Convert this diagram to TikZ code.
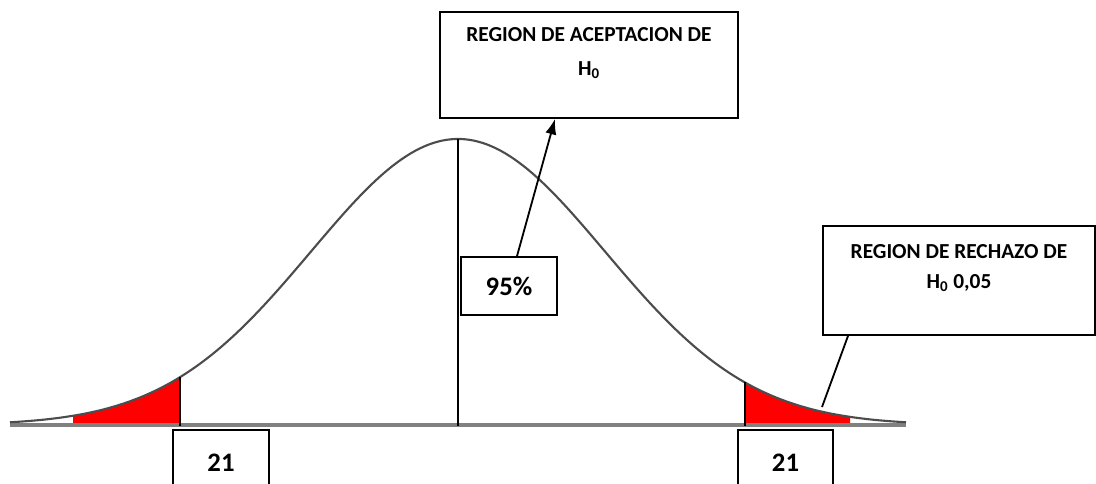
\documentclass[tikz,border=0pt]{standalone}
\usepackage{fontspec}
\setmainfont{Carlito}
\usetikzlibrary{arrows.meta}

\begin{document}
\begin{tikzpicture}[x=0.025cm, y=-0.025cm,
  box/.style={draw, line width=1.3pt, fill=white, inner sep=0pt},
  lbl/.style={font=\bfseries\fontsize{15.2}{24}\selectfont, align=center, inner sep=0pt},
  num/.style={font=\bfseries\fontsize{19}{22}\selectfont}]
% one unit = one pixel of the picture
\def\pxsize{0.025cm}

\useasboundingbox (0,0) rectangle (1096,483);
\clip (0,0) rectangle (1096,483);

% red tails under the curve
\fill[red] (73,425) -- plot[domain=73:180, samples=60] (\x, {425-286*exp(-((\x-458)/147)^2/2)}) -- (180,425) -- cycle;
\fill[red] (745,425) -- plot[domain=745:850, samples=60] (\x, {425-286*exp(-((\x-458)/147)^2/2)}) -- (850,425) -- cycle;

% axis and curve
\draw[gray, line width=3.5pt] (10,425) -- (906,425);
\draw[black!70, line width=1.5pt] plot[domain=10:906, samples=200] (\x, {425-286*exp(-((\x-458)/147)^2/2)});

% vertical lines
\draw[line width=2pt] (458,139) -- (458,426);
\draw[line width=2pt] (180,377) -- (180,426);
\draw[line width=2pt] (745,382) -- (745,426);

% boxes
\node[box, minimum width=298*\pxsize, minimum height=106*\pxsize] (acep) at (589,65) {};
\node[lbl] (aceptxt) at (589,53) {REGION DE ACEPTACION DE\\H\textsubscript{0}};
\node[box, minimum width=272*\pxsize, minimum height=109*\pxsize] (rech) at (959,280.5) {};
\node[lbl, font=\bfseries\fontsize{15.2}{21}\selectfont] (rechtxt) at (959,268) {REGION DE RECHAZO DE\\H\textsubscript{0} 0,05};
\node[box, num, minimum width=96*\pxsize, minimum height=58*\pxsize] (pct) at (509,286) {95\%};
\node[box, num, minimum width=96*\pxsize, minimum height=66*\pxsize, anchor=north] (izq) at (221,429) {21};
\node[box, num, minimum width=95*\pxsize, minimum height=66*\pxsize, anchor=north] (der) at (785.5,429) {21};

% connectors
\coordinate (cola) at (822,407);
\draw[line width=1.3pt, -{Latex[length=11pt,width=8pt]}] ([xshift=8*\pxsize]pct.north) -- ([xshift=-34*\pxsize]acep.south);
\draw[line width=1.3pt] ([xshift=-111*\pxsize]rech.south) -- (cola);
\end{tikzpicture}
\end{document}
